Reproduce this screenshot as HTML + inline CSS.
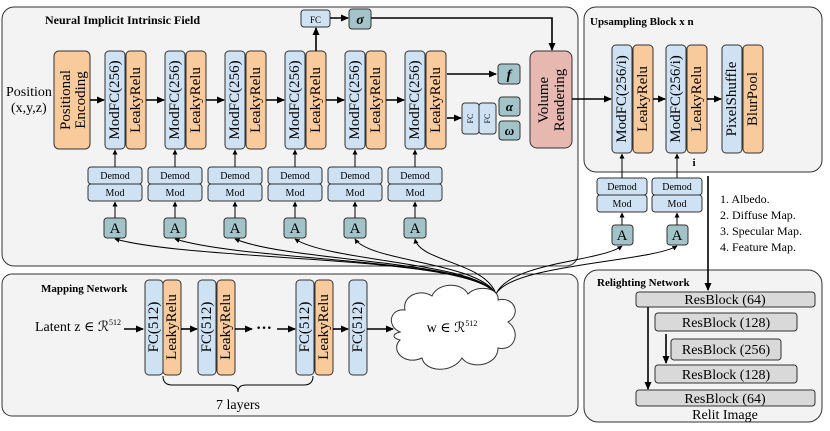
<!DOCTYPE html>
<html><head><meta charset="utf-8"><style>
body{margin:0;background:#fff}
svg, svg text{font-family:"Liberation Serif","DejaVu Serif",serif}
.b{fill:#cfe2f3;stroke:#333;stroke-width:1}
.o{fill:#f9cb9c;stroke:#333;stroke-width:1}
.t{fill:#a2c4c9;stroke:#333;stroke-width:1}
.p{fill:#f3f3f3;stroke:#333;stroke-width:1}
.g{fill:#d9d9d9;stroke:#333;stroke-width:1}
.ln{stroke:#000;stroke-width:1.6;fill:none}
.th{stroke:#000;stroke-width:1;fill:none}
.vt{font-size:15px;text-anchor:middle;dominant-baseline:central}
</style></head><body>
<svg width="830" height="426" viewBox="0 0 830 426" font-family="Liberation Serif, serif">
<defs>
<marker id="ar" markerWidth="8" markerHeight="8" refX="7" refY="4" orient="auto" markerUnits="userSpaceOnUse"><path d="M0,0.5 L8,4 L0,7.5z" fill="#000"/></marker>
<marker id="as" markerWidth="5" markerHeight="5" refX="4.5" refY="2.5" orient="auto" markerUnits="userSpaceOnUse"><path d="M0,0 L5,2.5 L0,5z" fill="#000"/></marker>
</defs>
<rect class="p" x="2" y="7" width="576" height="259" rx="12"/>
<rect class="p" x="584" y="7" width="238" height="165" rx="12"/>
<rect class="p" x="2" y="274" width="576" height="142" rx="10"/>
<rect class="p" x="584" y="270" width="238" height="152" rx="14"/>
<text x="45" y="24" font-size="12" font-weight="bold">Neural Implicit Intrinsic Field</text>
<text x="590" y="25" font-size="11" font-weight="bold">Upsampling Block x n</text>
<text x="41" y="292" font-size="11" font-weight="bold">Mapping Network</text>
<text x="597" y="286" font-size="11" font-weight="bold">Relighting Network</text>

<text x="6" y="96" font-size="14">Position</text>
<text x="11" y="112" font-size="14">(x,y,z)</text>
<rect class="o" x="54" y="51" width="36" height="98" rx="5"/>
<text class="vt" transform="translate(66,100) rotate(-90)">Positional</text>
<text class="vt" transform="translate(81,100) rotate(-90)">Encoding</text>
<line class="ln" x1="90" y1="100" x2="104" y2="100" marker-end="url(#ar)"/>

<g>
<rect class="b" x="105" y="51" width="20" height="98" rx="4"/><rect class="o" x="126" y="51" width="20" height="98" rx="4"/>
<text class="vt" transform="translate(115,100) rotate(-90)">ModFC(256)</text><text class="vt" transform="translate(136,100) rotate(-90)">LeakyRelu</text>
<rect class="b" x="165" y="51" width="20" height="98" rx="4"/><rect class="o" x="186" y="51" width="20" height="98" rx="4"/>
<text class="vt" transform="translate(175,100) rotate(-90)">ModFC(256)</text><text class="vt" transform="translate(196,100) rotate(-90)">LeakyRelu</text>
<rect class="b" x="225" y="51" width="20" height="98" rx="4"/><rect class="o" x="246" y="51" width="20" height="98" rx="4"/>
<text class="vt" transform="translate(235,100) rotate(-90)">ModFC(256)</text><text class="vt" transform="translate(256,100) rotate(-90)">LeakyRelu</text>
<rect class="b" x="285" y="51" width="20" height="98" rx="4"/><rect class="o" x="306" y="51" width="20" height="98" rx="4"/>
<text class="vt" transform="translate(295,100) rotate(-90)">ModFC(256)</text><text class="vt" transform="translate(316,100) rotate(-90)">LeakyRelu</text>
<rect class="b" x="345" y="51" width="20" height="98" rx="4"/><rect class="o" x="366" y="51" width="20" height="98" rx="4"/>
<text class="vt" transform="translate(355,100) rotate(-90)">ModFC(256)</text><text class="vt" transform="translate(376,100) rotate(-90)">LeakyRelu</text>
<rect class="b" x="405" y="51" width="20" height="98" rx="4"/><rect class="o" x="426" y="51" width="20" height="98" rx="4"/>
<text class="vt" transform="translate(415,100) rotate(-90)">ModFC(256)</text><text class="vt" transform="translate(436,100) rotate(-90)">LeakyRelu</text>
</g>
<line class="ln" x1="146" y1="100" x2="164" y2="100" marker-end="url(#ar)"/>
<line class="ln" x1="206" y1="100" x2="224" y2="100" marker-end="url(#ar)"/>
<line class="ln" x1="266" y1="100" x2="284" y2="100" marker-end="url(#ar)"/>
<line class="ln" x1="326" y1="100" x2="344" y2="100" marker-end="url(#ar)"/>
<line class="ln" x1="386" y1="100" x2="404" y2="100" marker-end="url(#ar)"/>

<g font-size="10" text-anchor="middle">
<rect class="b" x="88" y="167" width="54" height="17" rx="3"/><rect class="b" x="88" y="184" width="54" height="17" rx="3"/>
<text x="115" y="179">Demod</text><text x="115" y="196">Mod</text>
<rect class="b" x="148" y="167" width="54" height="17" rx="3"/><rect class="b" x="148" y="184" width="54" height="17" rx="3"/>
<text x="175" y="179">Demod</text><text x="175" y="196">Mod</text>
<rect class="b" x="208" y="167" width="54" height="17" rx="3"/><rect class="b" x="208" y="184" width="54" height="17" rx="3"/>
<text x="235" y="179">Demod</text><text x="235" y="196">Mod</text>
<rect class="b" x="268" y="167" width="54" height="17" rx="3"/><rect class="b" x="268" y="184" width="54" height="17" rx="3"/>
<text x="295" y="179">Demod</text><text x="295" y="196">Mod</text>
<rect class="b" x="328" y="167" width="54" height="17" rx="3"/><rect class="b" x="328" y="184" width="54" height="17" rx="3"/>
<text x="355" y="179">Demod</text><text x="355" y="196">Mod</text>
<rect class="b" x="388" y="167" width="54" height="17" rx="3"/><rect class="b" x="388" y="184" width="54" height="17" rx="3"/>
<text x="415" y="179">Demod</text><text x="415" y="196">Mod</text>
<rect class="b" x="597" y="178" width="50" height="17" rx="3"/><rect class="b" x="597" y="195" width="50" height="17" rx="3"/>
<text x="622" y="190">Demod</text><text x="622" y="207">Mod</text>
<rect class="b" x="652" y="178" width="50" height="17" rx="3"/><rect class="b" x="652" y="195" width="50" height="17" rx="3"/>
<text x="677" y="190">Demod</text><text x="677" y="207">Mod</text>
</g>
<g font-size="15" text-anchor="middle">
<rect class="t" x="104" y="218" width="22" height="20" rx="3"/><text x="115" y="233">A</text>
<rect class="t" x="164" y="218" width="22" height="20" rx="3"/><text x="175" y="233">A</text>
<rect class="t" x="224" y="218" width="22" height="20" rx="3"/><text x="235" y="233">A</text>
<rect class="t" x="284" y="218" width="22" height="20" rx="3"/><text x="295" y="233">A</text>
<rect class="t" x="344" y="218" width="22" height="20" rx="3"/><text x="355" y="233">A</text>
<rect class="t" x="404" y="218" width="22" height="20" rx="3"/><text x="415" y="233">A</text>
<rect class="t" x="612" y="225" width="21" height="20" rx="3"/><text x="622" y="240">A</text>
<rect class="t" x="667" y="225" width="21" height="20" rx="3"/><text x="677" y="240">A</text>
</g>
<g class="th">
<line x1="115" y1="218" x2="115" y2="202" marker-end="url(#as)"/><line x1="115" y1="167" x2="115" y2="150" marker-end="url(#as)"/>
<line x1="175" y1="218" x2="175" y2="202" marker-end="url(#as)"/><line x1="175" y1="167" x2="175" y2="150" marker-end="url(#as)"/>
<line x1="235" y1="218" x2="235" y2="202" marker-end="url(#as)"/><line x1="235" y1="167" x2="235" y2="150" marker-end="url(#as)"/>
<line x1="295" y1="218" x2="295" y2="202" marker-end="url(#as)"/><line x1="295" y1="167" x2="295" y2="150" marker-end="url(#as)"/>
<line x1="355" y1="218" x2="355" y2="202" marker-end="url(#as)"/><line x1="355" y1="167" x2="355" y2="150" marker-end="url(#as)"/>
<line x1="415" y1="218" x2="415" y2="202" marker-end="url(#as)"/><line x1="415" y1="167" x2="415" y2="150" marker-end="url(#as)"/>
<line x1="622" y1="225" x2="622" y2="213" marker-end="url(#as)"/><line x1="622" y1="178" x2="622" y2="154" marker-end="url(#as)"/>
<line x1="677" y1="225" x2="677" y2="213" marker-end="url(#as)"/><line x1="677" y1="178" x2="677" y2="154" marker-end="url(#as)"/>
</g>

<g class="th" stroke-width="0.9">
<path d="M496,294 C470,255 200,262 115,239" marker-end="url(#as)"/>
<path d="M496,294 C472,258 250,262 175,239" marker-end="url(#as)"/>
<path d="M496,294 C474,260 290,262 235,239" marker-end="url(#as)"/>
<path d="M496,294 C476,262 330,262 295,239" marker-end="url(#as)"/>
<path d="M496,294 C478,262 370,262 355,239" marker-end="url(#as)"/>
<path d="M496,294 C485,262 420,262 415,239" marker-end="url(#as)"/>
<path d="M496,294 C510,262 600,262 622,246" marker-end="url(#as)"/>
<path d="M496,294 C512,264 650,262 677,246" marker-end="url(#as)"/>
</g>

<line class="ln" x1="316" y1="51" x2="316" y2="28" marker-end="url(#ar)"/>
<rect class="b" x="301" y="10" width="29" height="17" rx="3"/><text x="315.5" y="23" font-size="9" text-anchor="middle">FC</text>
<line class="ln" x1="330" y1="18" x2="348" y2="18" marker-end="url(#ar)"/>
<rect class="t" x="349" y="9" width="22" height="20" rx="3"/><text x="360" y="24" font-size="14" font-weight="bold" font-style="italic" text-anchor="middle">σ</text>
<path class="ln" d="M371,18 H552 V50" marker-end="url(#ar)"/>
<line class="ln" x1="447" y1="74" x2="496" y2="74" marker-end="url(#ar)"/>
<rect class="t" x="498" y="64" width="22" height="20" rx="3"/><text x="509" y="79" font-size="14" font-weight="bold" font-style="italic" text-anchor="middle">f</text>
<line class="ln" x1="447" y1="118" x2="461" y2="118" marker-end="url(#ar)"/>
<rect class="b" x="462" y="103" width="17" height="31" rx="3"/><rect class="b" x="479" y="103" width="17" height="31" rx="3"/>
<text class="vt" font-size="8" style="font-size:8px" transform="translate(470.5,118.5) rotate(-90)">FC</text><text class="vt" style="font-size:8px" transform="translate(487.5,118.5) rotate(-90)">FC</text>
<rect class="t" x="499" y="97" width="21" height="19" rx="3"/><text x="509.5" y="111" font-size="13" font-weight="bold" font-style="italic" text-anchor="middle">α</text>
<rect class="t" x="499" y="121" width="21" height="19" rx="3"/><text x="509.5" y="135" font-size="13" font-weight="bold" font-style="italic" text-anchor="middle">ω</text>
<rect x="530" y="51" width="42" height="97" rx="7" fill="#e6b8af" stroke="#333"/>
<text class="vt" transform="translate(544,100) rotate(-90)">Volume</text><text class="vt" transform="translate(560,100) rotate(-90)">Rendering</text>
<line class="ln" x1="572" y1="99" x2="611" y2="99" marker-end="url(#ar)"/>

<rect class="b" x="612" y="45" width="20" height="108" rx="4"/><rect class="o" x="633" y="45" width="20" height="108" rx="4"/>
<text class="vt" transform="translate(622,99) rotate(-90)">ModFC(256/i)</text><text class="vt" transform="translate(643,99) rotate(-90)">LeakyRelu</text>
<rect class="b" x="666" y="45" width="20" height="108" rx="4"/><rect class="o" x="687" y="45" width="20" height="108" rx="4"/>
<text class="vt" transform="translate(676,99) rotate(-90)">ModFC(256/i)</text><text class="vt" transform="translate(697,99) rotate(-90)">LeakyRelu</text>
<rect class="b" x="722" y="45" width="20" height="108" rx="4"/><rect class="o" x="743" y="45" width="20" height="108" rx="4"/>
<text class="vt" transform="translate(732,99) rotate(-90)">PixelShuffle</text><text class="vt" transform="translate(753,99) rotate(-90)">BlurPool</text>
<line class="ln" x1="653" y1="99" x2="665" y2="99" marker-end="url(#ar)"/>
<line class="ln" x1="707" y1="99" x2="721" y2="99" marker-end="url(#ar)"/>
<text x="694" y="166" font-size="11" font-weight="bold" text-anchor="middle">i</text>
<line class="ln" x1="708" y1="176" x2="708" y2="290" marker-end="url(#ar)"/>
<g font-size="12"><text x="720" y="203">1. Albedo.</text><text x="720" y="219">2. Diffuse Map.</text><text x="720" y="235">3. Specular Map.</text><text x="720" y="251">4. Feature Map.</text></g>

<g font-size="14" text-anchor="middle">
<rect class="g" x="636" y="292" width="179" height="15" rx="3"/><text x="725" y="304">ResBlock (64)</text>
<rect class="g" x="655" y="313" width="142" height="18" rx="3"/><text x="726" y="327">ResBlock (128)</text>
<rect class="g" x="671" y="339" width="110" height="21" rx="3"/><text x="726" y="354">ResBlock (256)</text>
<rect class="g" x="655" y="365" width="142" height="18" rx="3"/><text x="726" y="379">ResBlock (128)</text>
<rect class="g" x="636" y="390" width="179" height="16" rx="3"/><text x="725" y="403">ResBlock (64)</text>
<text x="725" y="419">Relit Image</text>
</g>
<line class="ln" x1="648" y1="307" x2="648" y2="389" marker-end="url(#ar)"/>
<line class="ln" x1="666" y1="334" x2="666" y2="363" marker-end="url(#ar)"/>

<text x="35" y="331" font-size="14">Latent z ∈ ℛ<tspan font-size="8" dy="-6">512</tspan></text>
<line class="ln" x1="124" y1="329" x2="143" y2="329" marker-end="url(#ar)"/>
<rect class="b" x="145" y="280" width="18" height="95" rx="4"/><rect class="o" x="163" y="280" width="18" height="95" rx="4"/>
<text class="vt" transform="translate(154,327) rotate(-90)">FC(512)</text><text class="vt" transform="translate(172,327) rotate(-90)">LeakyRelu</text>
<rect class="b" x="198" y="280" width="18" height="95" rx="4"/><rect class="o" x="217" y="280" width="18" height="95" rx="4"/>
<text class="vt" transform="translate(207,327) rotate(-90)">FC(512)</text><text class="vt" transform="translate(226,327) rotate(-90)">LeakyRelu</text>
<rect class="b" x="296" y="280" width="18" height="95" rx="4"/><rect class="o" x="315" y="280" width="18" height="95" rx="4"/>
<text class="vt" transform="translate(305,327) rotate(-90)">FC(512)</text><text class="vt" transform="translate(324,327) rotate(-90)">LeakyRelu</text>
<rect class="b" x="349" y="280" width="18" height="95" rx="4"/>
<text class="vt" transform="translate(358,327) rotate(-90)">FC(512)</text>
<line class="ln" x1="181" y1="329" x2="197" y2="329" marker-end="url(#ar)"/>
<line class="ln" x1="235" y1="329" x2="252" y2="329" marker-end="url(#ar)"/>
<text x="256" y="333" font-size="16" font-weight="bold">···</text>
<line class="ln" x1="277" y1="329" x2="295" y2="329" marker-end="url(#ar)"/>
<line class="ln" x1="333" y1="329" x2="348" y2="329" marker-end="url(#ar)"/>
<line class="ln" x1="367" y1="329" x2="393" y2="329" marker-end="url(#ar)"/>
<path class="th" d="M163,376 Q163,385 172,385 H230 Q238,385 238,392 Q238,385 246,385 H304 Q313,385 313,376"/>
<text x="238" y="409" font-size="14" text-anchor="middle">7 layers</text>
<path d="M400,332 C386,326 390,308 405,310 C402,296 420,288 432,296 C438,282 462,282 468,294 C478,284 500,288 498,300 C514,296 522,314 508,322 C522,332 514,352 498,348 C498,366 470,370 462,358 C452,374 425,372 422,358 C404,366 390,350 400,340 C392,338 392,334 400,332 Z" fill="#fff" stroke="#333"/>
<text x="452" y="332" font-size="14" text-anchor="middle">w ∈ ℛ<tspan font-size="8" dy="-6">512</tspan></text>
</svg>
</body></html>
